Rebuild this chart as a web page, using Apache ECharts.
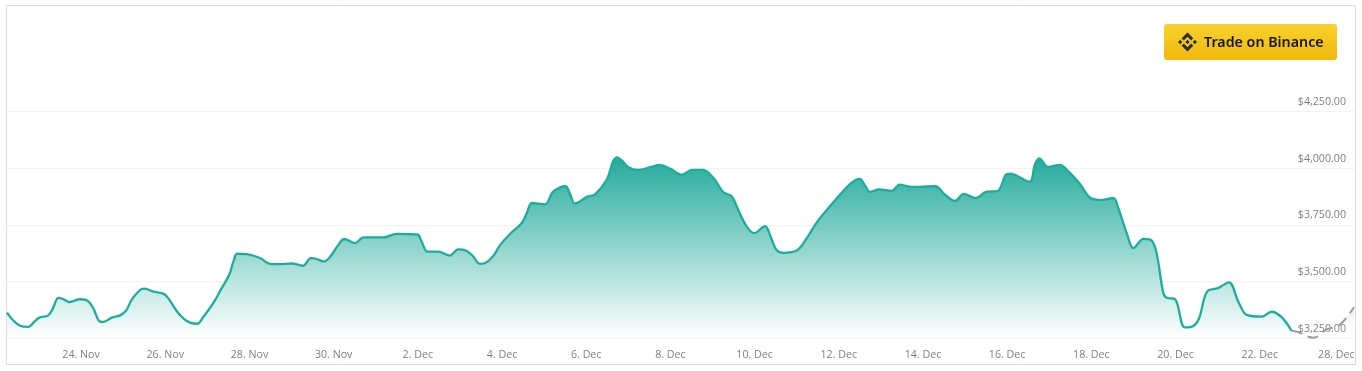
<!DOCTYPE html>
<html><head><meta charset="utf-8">
<style>html,body{margin:0;padding:0;background:#fff;overflow:hidden}#c{width:1362px;height:371px}</style>
<script src="https://cdn.jsdelivr.net/npm/echarts@6/dist/echarts.min.js"></script>
</head><body><div id="c"></div>
<script>
// x values: days counted from 24 Nov
const days = [-1.76,-1.61,-1.45,-1.25,-1.13,-0.99,-0.78,-0.67,-0.54,-0.42,-0.28,-0.02,0.15,0.29,0.45,0.53,0.73,0.93,1.07,1.20,1.40,1.50,1.72,1.95,2.07,2.27,2.45,2.59,2.76,2.90,3.14,3.34,3.52,3.62,3.71,3.94,4.25,4.49,4.73,5.00,5.27,5.46,5.56,5.76,5.91,6.14,6.25,6.51,6.71,7.18,7.50,7.99,8.09,8.23,8.49,8.76,8.96,9.14,9.30,9.48,9.64,9.81,9.95,10.19,10.47,10.59,10.71,11.02,11.20,11.38,11.51,11.62,11.73,11.85,12.03,12.21,12.49,12.64,12.74,12.84,13.00,13.24,13.52,13.75,13.99,14.27,14.51,14.78,15.02,15.26,15.46,15.61,15.81,15.99,16.25,16.35,16.52,16.68,17.00,17.24,17.47,17.77,18.19,18.38,18.50,18.61,18.74,18.96,19.26,19.45,19.73,20.29,20.52,20.76,20.97,21.26,21.51,21.77,21.97,22.07,22.53,22.66,22.76,22.98,23.25,23.49,23.73,23.98,24.24,24.52,24.64,24.84,25.00,25.24,25.43,25.55,25.71,25.79,25.99,26.22,26.42,26.56,26.75,27.01,27.27,27.49,27.69,28.05,28.28,28.52,28.76];
const prices = [3362,3327,3304,3299,3318,3340,3350,3381,3427,3421,3409,3421,3415,3381,3322,3321,3340,3350,3371,3418,3462,3468,3455,3446,3426,3369,3333,3318,3313,3342,3404,3470,3529,3588,3622,3620,3603,3577,3576,3579,3569,3603,3601,3588,3607,3669,3687,3669,3694,3694,3710,3707,3676,3631,3631,3614,3641,3636,3613,3577,3585,3617,3659,3709,3758,3802,3846,3840,3893,3915,3920,3883,3843,3853,3874,3884,3949,4030,4047,4035,4004,3992,4004,4014,3998,3971,3992,3992,3957,3893,3875,3816,3743,3713,3744,3713,3639,3626,3636,3691,3758,3827,3915,3945,3952,3927,3895,3906,3900,3927,3917,3920,3883,3855,3886,3868,3896,3899,3971,3976,3939,4016,4043,4005,4014,3979,3930,3868,3859,3868,3824,3713,3647,3688,3681,3625,3448,3428,3421,3297,3303,3337,3455,3470,3496,3411,3352,3344,3366,3342,3281];
const forecastDays = [28.76,28.88,29.27,29.59,29.90,30.24];
const forecastPrices = [3281,3278,3251,3288,3308,3386];
const priceTicks = [3250,3500,3750,4000,4250];
const dayTicks = [0,2,4,6,8,10,12,14,16,18,20,22,24,26,28,29.82];
const dayLabels = ['24. Nov','26. Nov','28. Nov','30. Nov','2. Dec','4. Dec','6. Dec','8. Dec','10. Dec','12. Dec','14. Dec','16. Dec','18. Dec','20. Dec','22. Dec','28. Dec'];

const zip = (a, b) => a.map((v, i) => [v, b[i]]);
const font = '"Open Sans", "Noto Sans", sans-serif';
const logoParts = [
  [[12,0],[19.34,7.34],[16.62,10.06],[12,5.42],[7.35,10.06],[4.64,7.34]],
  [[12,24],[19.34,16.64],[16.62,13.92],[12,18.58],[7.35,13.92],[4.64,16.64]],
  [[2.72,9.28],[5.41,12],[2.72,14.69],[0,12]],
  [[21.28,9.28],[24,12],[21.28,14.72],[18.57,12]],
  [[12,9.28],[14.7,12],[12,14.7],[9.27,12]]
];

const chart = echarts.init(document.getElementById('c'), null, {renderer: 'canvas'});
chart.setOption({
  animation: false,
  grid: {left: 7, right: 8, top: 111.5, bottom: 33},
  xAxis: {
    type: 'value', min: -1.76, max: 30.24,
    axisLine: {show: false}, axisTick: {show: false}, splitLine: {show: false},
    axisLabel: {
      customValues: dayTicks,
      formatter: v => dayLabels[dayTicks.indexOf(v)],
      color: '#7f7f7f', fontFamily: font, fontSize: 10.67, margin: 11,
      hideOverlap: false
    }
  },
  yAxis: {
    type: 'value', position: 'right', min: 3250, max: 4250, interval: 250,
    axisLine: {show: false}, axisTick: {show: false},
    splitLine: {lineStyle: {color: '#f2f2f2', width: 1}},
    axisLabel: {
      inside: true, margin: 8, verticalAlign: 'bottom', padding: [0, 0, 4, 0],
      color: '#7f7f7f', fontFamily: font, fontSize: 10.67,
      formatter: v => priceTicks.includes(v) ? '$' + v.toLocaleString('en-US') + '.00' : ''
    }
  },
  series: [
    {
      type: 'line', data: zip(forecastDays, forecastPrices), smooth: 0.35, symbol: 'none', silent: true,
      lineStyle: {color: '#9b9b9b', width: 2, type: [11, 6]},
      areaStyle: {opacity: 1, color: {type: 'linear', x: 0, y: 0, x2: 0, y2: 1, colorStops: [{offset: 0, color: 'rgba(190,190,190,0.35)'}, {offset: 1, color: 'rgba(255,255,255,0)'}]}},
      z: 2, clip: false
    },
    {
      type: 'line', data: zip(days, prices), smooth: 0.35, symbol: 'none', silent: true,
      lineStyle: {color: '#1cad9d', width: 2.3},
      areaStyle: {opacity: 1, color: {type: 'linear', x: 0, y: 0, x2: 0, y2: 1, colorStops: [{offset: 0, color: '#25ab9c'}, {offset: 1, color: '#ffffff'}]}},
      z: 3, clip: false
    }
  ],
  graphic: [
    {type: 'rect', silent: true, z: 0, shape: {x: 6.5, y: 5.5, width: 1349, height: 359}, style: {fill: 'none', stroke: '#dcdcdc', lineWidth: 1}},
    {type: 'rect', silent: true, z: 10, shape: {x: 1164, y: 24, width: 173, height: 36, r: 3},
      style: {fill: {type: 'linear', x: 0, y: 0, x2: 0, y2: 1, colorStops: [{offset: 0, color: '#f8d12f'}, {offset: 1, color: '#f0b90b'}]}}},
    {type: 'group', silent: true, z: 11, x: 1178, y: 32.5, scaleX: 19 / 24, scaleY: 19 / 24,
      children: logoParts.map(points => ({type: 'polygon', z: 11, shape: {points}, style: {fill: '#2b2f36'}}))},
    {type: 'text', silent: true, z: 11, x: 1204, y: 42.5, style: {text: 'Trade on Binance', fill: '#151515', font: '600 14.25px "Noto Sans", "Open Sans", sans-serif', verticalAlign: 'middle', align: 'left'}}
  ]
});
</script></body></html>
